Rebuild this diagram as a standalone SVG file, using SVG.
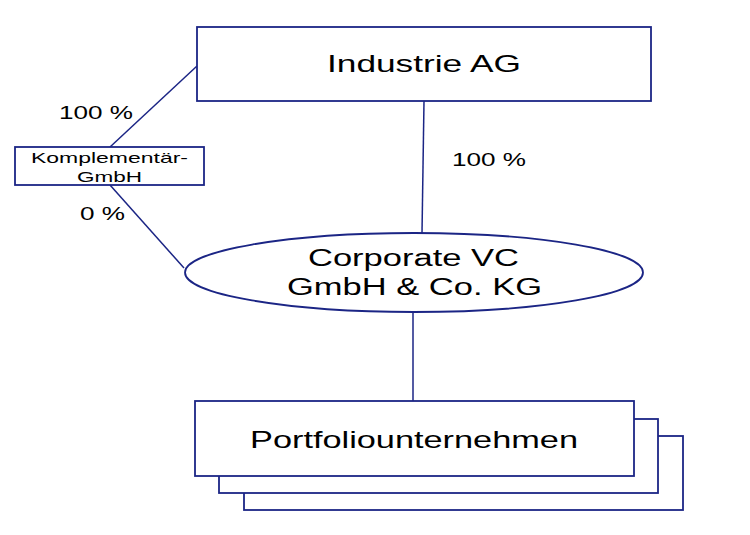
<svg xmlns="http://www.w3.org/2000/svg" width="750" height="535" viewBox="0 0 750 535">
<style>
.box{fill:#fff;stroke:#1b2585;stroke-width:1.8}
.ln{fill:none;stroke:#1b2585;stroke-width:1.5}
text{font-family:"Liberation Sans",Arial,sans-serif;fill:#000;text-anchor:start}
</style>
<rect width="750" height="535" fill="#fff"/>
<g id="connectors">
<line class="ln" x1="197" y1="66" x2="110" y2="147"/>
<line class="ln" x1="110" y1="185" x2="184" y2="268"/>
<line class="ln" x1="424" y1="101" x2="422" y2="233"/>
<line class="ln" x1="413" y1="312" x2="413" y2="401"/>
<text x="59" y="119" font-size="18" textLength="74" lengthAdjust="spacingAndGlyphs">100 %</text>
<text x="80" y="220" font-size="18" textLength="45" lengthAdjust="spacingAndGlyphs">0 %</text>
<text x="452" y="166" font-size="18" textLength="74" lengthAdjust="spacingAndGlyphs">100 %</text>
</g>
<g id="industrie">
<rect class="box" x="197" y="27" width="454" height="74"/>
<text x="327" y="72" font-size="24" textLength="194" lengthAdjust="spacingAndGlyphs">Industrie AG</text>
</g>
<g id="komplementaer">
<rect class="box" x="15" y="147" width="189" height="38" stroke-width="1.5"/>
<text x="31" y="163" font-size="15" textLength="157" lengthAdjust="spacingAndGlyphs">Komplementär-</text>
<text x="77" y="182" font-size="15" textLength="65" lengthAdjust="spacingAndGlyphs">GmbH</text>
</g>
<g id="corporate">
<ellipse class="box" cx="414" cy="272.5" rx="229" ry="39.5" stroke-width="1.5"/>
<text x="308" y="266" font-size="23" textLength="211" lengthAdjust="spacingAndGlyphs">Corporate VC</text>
<text x="287" y="295" font-size="23" textLength="255" lengthAdjust="spacingAndGlyphs">GmbH &amp; Co. KG</text>
</g>
<g id="portfolio">
<rect class="box" x="244" y="436" width="439" height="74"/>
<rect class="box" x="219" y="419" width="439" height="74"/>
<rect class="box" x="195" y="401" width="439" height="75"/>
<text x="250" y="448" font-size="24" textLength="328" lengthAdjust="spacingAndGlyphs">Portfoliounternehmen</text>
</g>
</svg>
